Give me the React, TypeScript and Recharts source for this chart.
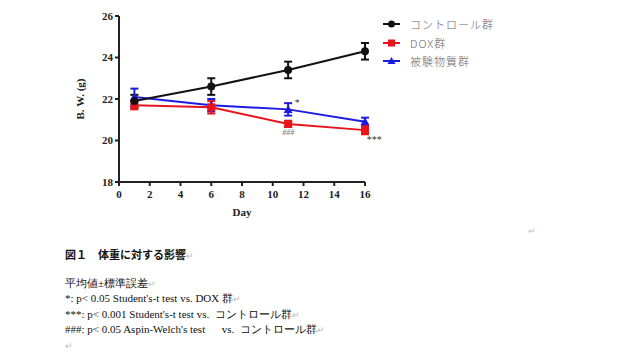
import React from "react";
import {
  LineChart,
  Line,
  XAxis,
  YAxis,
  ErrorBar,
  ReferenceDot,
} from "recharts";

const days = [1, 6, 11, 16];
const controlMean = [21.9, 22.6, 23.4, 24.3];
const controlErr = [0.3, 0.4, 0.4, 0.4];
const doxMean = [21.7, 21.6, 20.8, 20.5];
const doxErr = [0.2, 0.3, 0.15, 0.2];
const testMean = [22.1, 21.7, 21.5, 20.9];
const testErr = [0.4, 0.3, 0.3, 0.2];
const xTicks = [0, 2, 4, 6, 8, 10, 12, 14, 16];
const yTicks = [18, 20, 22, 24, 26];
const seriesNames = ["コントロール群", "DOX群", "被験物質群"];
const captionTitle = "図１　体重に対する影響";
const captionLines = [
  "平均値±標準誤差",
  "*: p< 0.05 Student's-t test vs. DOX 群",
  "***: p< 0.001 Student's-t test vs.  コントロール群",
  "###: p< 0.05 Aspin-Welch's test　  vs.  コントロール群",
];

const build = (m: number[], e: number[]) =>
  days.map((d, i) => ({ day: d, v: m[i], err: e[i] }));
const controlData = build(controlMean, controlErr);
const doxData = build(doxMean, doxErr);
const testData = build(testMean, testErr);

const BLACK = "#111111";
const RED = "#e8141c";
const BLUE = "#1c1ce0";

const serif = "'Liberation Serif', 'Times New Roman', serif";

const CircleDot = (p: any) => (
  <circle key={`c${p.index}`} cx={p.cx} cy={p.cy} r={4} fill={BLACK} />
);
const SquareDot = (p: any) => (
  <rect key={`s${p.index}`} x={p.cx - 4} y={p.cy - 4} width={8} height={8} fill={RED} />
);
const TriDot = (p: any) => (
  <polygon
    key={`t${p.index}`}
    points={`${p.cx},${p.cy - 4.5} ${p.cx - 4.5},${p.cy + 3.5} ${p.cx + 4.5},${p.cy + 3.5}`}
    fill={BLUE}
  />
);

const LegendBox = () => {
  const items = [
    { name: seriesNames[0], color: BLACK, shape: "c" },
    { name: seriesNames[1], color: RED, shape: "s" },
    { name: seriesNames[2], color: BLUE, shape: "t" },
  ];
  return (
    <div style={{ position: "absolute", left: 383, top: 15 }}>
      {items.map((it, i) => (
        <div key={i} style={{ display: "flex", alignItems: "center", height: 18.5 }}>
          <svg width={18} height={10}>
            <line x1={0} y1={5} x2={17} y2={5} stroke={it.color} strokeWidth={2} />
            {it.shape === "c" && <circle cx={8.5} cy={5} r={3.5} fill={it.color} />}
            {it.shape === "s" && <rect x={5} y={1.5} width={7} height={7} fill={it.color} />}
            {it.shape === "t" && <polygon points="8.5,1 4.5,8 12.5,8" fill={it.color} />}
          </svg>
          <span
            style={{
              marginLeft: 9,
              fontSize: 11,
              color: "#666",
              fontFamily: "'Noto Sans CJK JP', sans-serif",
              fontWeight: 300,
              letterSpacing: 1,
            }}
          >
            {it.name}
          </span>
        </div>
      ))}
    </div>
  );
};

const tickStyle = { fontFamily: serif, fontWeight: "bold", fontSize: 11, fill: "#222" };

export default function App() {
  return (
    <div
      style={{
        position: "absolute",
        left: 0,
        top: 0,
        width: 621,
        height: 358,
        background: "#fff",
        overflow: "hidden",
      }}
    >
      <LineChart
        width={621}
        height={230}
        margin={{ top: 16, right: 256, bottom: 18, left: 79 }}
      >
        <XAxis
          dataKey="day"
          type="number"
          domain={[0, 16]}
          ticks={xTicks}
          allowDuplicatedCategory={false}
          height={30}
          axisLine={{ stroke: "#222", strokeWidth: 2 }}
          tickLine={{ stroke: "#222", strokeWidth: 2 }}
          tickSize={4}
          tick={{ ...tickStyle, dy: 2 }}
          label={{
            value: "Day",
            position: "insideBottom",
            offset: -4,
            style: { fontFamily: serif, fontWeight: "bold", fontSize: 11, fill: "#222" },
          }}
        />
        <YAxis
          type="number"
          domain={[18, 26]}
          ticks={yTicks}
          width={40}
          axisLine={{ stroke: "#222", strokeWidth: 2 }}
          tickLine={{ stroke: "#222", strokeWidth: 2 }}
          tickSize={4}
          tick={tickStyle}
          label={{
            value: "B. W. (g)",
            angle: -90,
            position: "insideLeft",
            offset: 1,
            style: {
              fontFamily: serif,
              fontWeight: "bold",
              fontSize: 11,
              fill: "#222",
              textAnchor: "middle",
            },
          }}
        />
        <Line
          data={testData}
          dataKey="v"
          name={seriesNames[2]}
          stroke={BLUE}
          strokeWidth={2}
          dot={TriDot}
          isAnimationActive={false}
        >
          <ErrorBar dataKey="err" direction="y" width={4} stroke={BLUE} strokeWidth={2} />
        </Line>
        <Line
          data={doxData}
          dataKey="v"
          name={seriesNames[1]}
          stroke={RED}
          strokeWidth={2}
          dot={SquareDot}
          isAnimationActive={false}
        >
          <ErrorBar dataKey="err" direction="y" width={4} stroke={RED} strokeWidth={2} />
        </Line>
        <Line
          data={controlData}
          dataKey="v"
          name={seriesNames[0]}
          stroke={BLACK}
          strokeWidth={2}
          dot={CircleDot}
          isAnimationActive={false}
        >
          <ErrorBar dataKey="err" direction="y" width={4} stroke={BLACK} strokeWidth={2} />
        </Line>
        <ReferenceDot
          x={11.6}
          y={21.85}
          r={0}
          ifOverflow="visible"
          label={{ value: "*", position: "center", style: { fontSize: 10, fill: "#333", fontFamily: serif } }}
        />
        <ReferenceDot
          x={11}
          y={20.4}
          r={0}
          ifOverflow="visible"
          label={{ value: "###", position: "center", style: { fontSize: 8, fill: "#777", fontFamily: serif, fontStyle: "italic" } }}
        />
        <ReferenceDot
          x={16.6}
          y={20.05}
          r={0}
          ifOverflow="visible"
          label={{ value: "***", position: "center", style: { fontSize: 10, fill: "#333", fontFamily: serif } }}
        />
      </LineChart>
      <LegendBox />
      <div
        style={{
          position: "absolute",
          left: 65,
          top: 246,
          fontFamily: "'Noto Sans CJK JP', sans-serif",
          fontWeight: "bold",
          fontSize: 11,
          color: "#111",
          whiteSpace: "pre",
        }}
      >
        {captionTitle}
        <span style={{ color: "#bbb", fontWeight: "normal", fontSize: 9 }}>↵</span>
      </div>
      <div
        style={{
          position: "absolute",
          left: 65,
          top: 276,
          fontFamily: serif,
          fontSize: 11,
          lineHeight: "14.3px",
          color: "#111",
          whiteSpace: "pre",
        }}
      >
        {captionLines.map((l, i) => (
          <div key={i}>
            {l}
            <span style={{ color: "#bbb", fontSize: 9 }}>↵</span>
          </div>
        ))}
      </div>
      <div style={{ position: "absolute", left: 65, top: 341, fontSize: 9, color: "#bbb" }}>↵</div>
      <div style={{ position: "absolute", left: 528, top: 226, fontSize: 9, color: "#bbb" }}>↵</div>
    </div>
  );
}
